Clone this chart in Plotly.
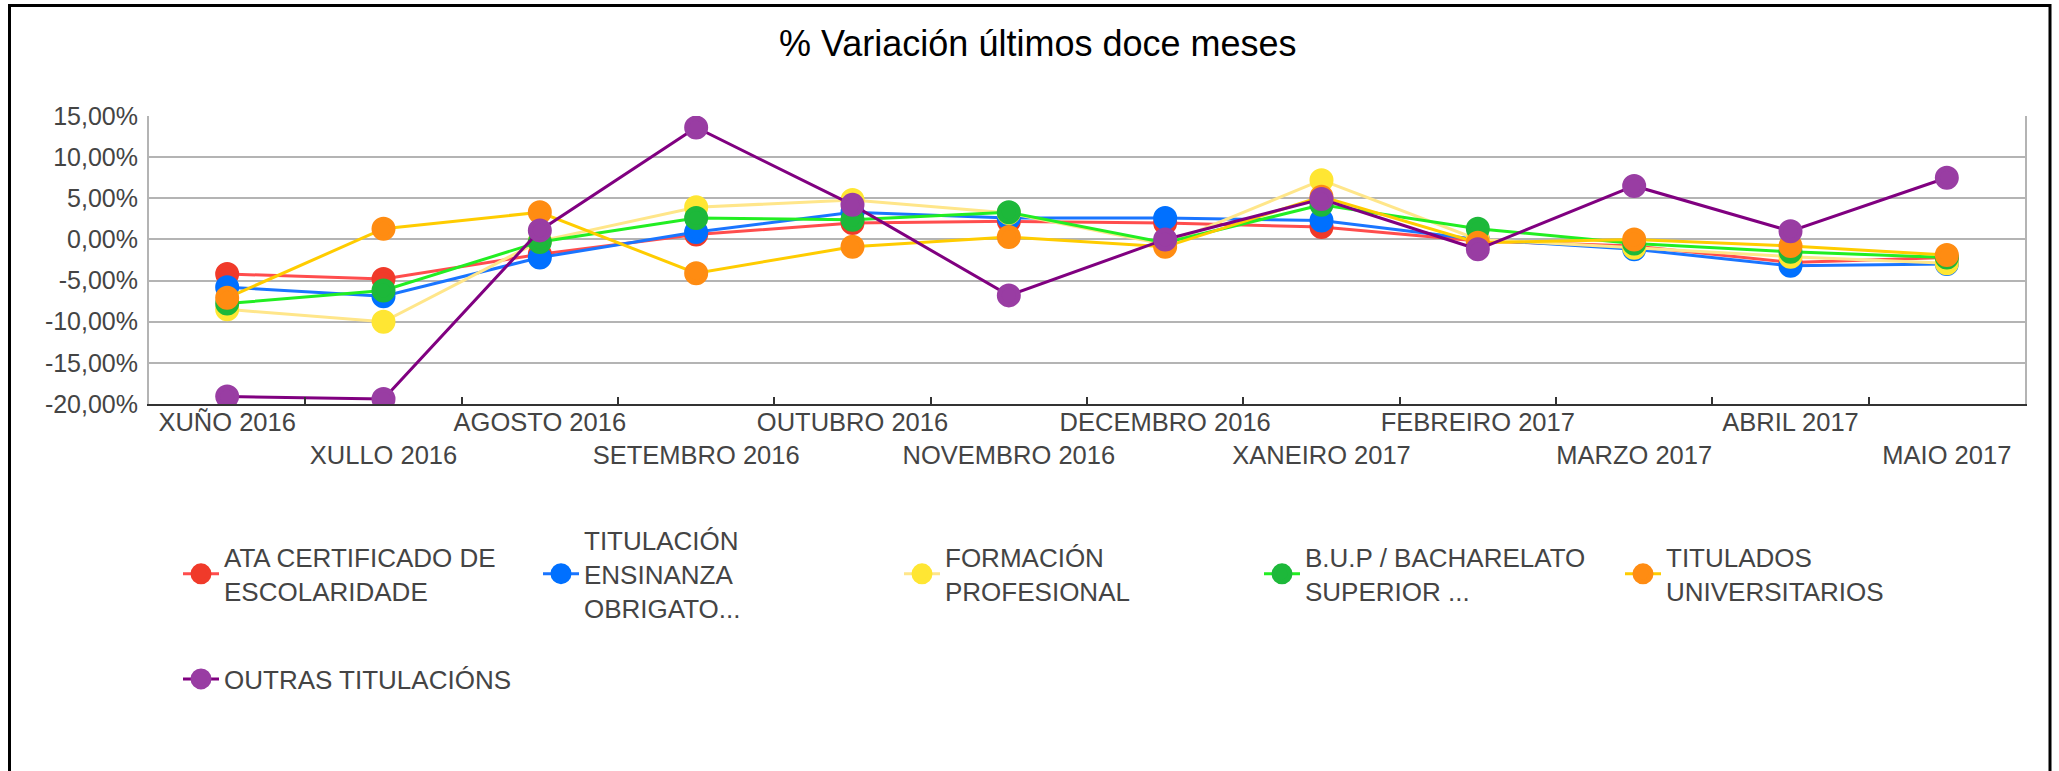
import plotly.graph_objects as go

categories = ["XUÑO 2016", "XULLO 2016", "AGOSTO 2016", "SETEMBRO 2016", "OUTUBRO 2016",
              "NOVEMBRO 2016", "DECEMBRO 2016", "XANEIRO 2017", "FEBREIRO 2017",
              "MARZO 2017", "ABRIL 2017", "MAIO 2017"]

ata_certificado = [-4.2, -4.8, -1.8, 0.6, 2.0, 2.2, 2.0, 1.5, -0.2, -0.8, -2.8, -2.2]
titulacion_ensinanza = [-5.8, -6.9, -2.2, 0.9, 3.3, 2.6, 2.6, 2.3, 0.0, -1.2, -3.2, -3.0]
formacion_profesional = [-8.5, -10.0, -0.2, 3.9, 4.8, 3.2, -0.6, 7.2, 0.0, -1.0, -2.1, -2.9]
bup_bacharelato = [-7.8, -6.2, -0.3, 2.6, 2.4, 3.3, -0.4, 4.2, 1.3, -0.5, -1.5, -2.2]
titulados_universitarios = [-7.1, 1.3, 3.3, -4.1, -0.9, 0.3, -0.9, 5.2, -0.4, 0.0, -0.8, -1.9]
outras_titulacions = [-19.1, -19.4, 1.1, 13.6, 4.2, -6.8, 0.0, 4.9, -1.2, 6.5, 1.0, 7.5]

series_names = ["ATA CERTIFICADO DE<br>ESCOLARIDADE",
                "TITULACIÓN<br>ENSINANZA<br>OBRIGATO...",
                "FORMACIÓN<br>PROFESIONAL",
                "B.U.P / BACHARELATO<br>SUPERIOR ...",
                "TITULADOS<br>UNIVERSITARIOS",
                "OUTRAS TITULACIÓNS"]
series_values = [ata_certificado, titulacion_ensinanza, formacion_profesional,
                 bup_bacharelato, titulados_universitarios, outras_titulacions]
marker_colors = ["#F03A2A", "#0070FF", "#FFE633", "#1DB83A", "#FF8C12", "#993DA3"]
line_colors = ["#FF4D4D", "#1A75FF", "#FFE68A", "#22EE22", "#FFCC00", "#800080"]

y_tick_values = [15, 10, 5, 0, -5, -10, -15, -20]
y_tick_labels = ["15,00%", "10,00%", "5,00%", "0,00%", "-5,00%", "-10,00%", "-15,00%", "-20,00%"]

W, H = 2059, 771
PL, PR, PT, PB = 149, 2025, 116, 404  # plot area in pixels


def px_x(p):
    return (p - PL) / (PR - PL)


def px_y(p):
    return (PB - p) / (PB - PT)


# legend symbol centres (pixels)
legend_pos = [(201, 574), (561, 574), (922, 574), (1282, 574), (1643, 574), (201, 679)]
ITEM_W = 36

fig = go.Figure()
legend_layouts = {}
for i, (name, vals) in enumerate(zip(series_names, series_values)):
    lname = "legend" if i == 0 else f"legend{i+1}"
    fig.add_trace(go.Scatter(
        x=categories, y=vals, name=name, mode="lines+markers",
        line=dict(color=line_colors[i], width=3),
        marker=dict(color=marker_colors[i], size=19,
                    line=dict(color=marker_colors[i], width=5)),
        legend=lname,
    ))
    cx, cy = legend_pos[i]
    legend_layouts[lname] = dict(
        x=px_x(cx - 5 - ITEM_W / 2), y=px_y(cy), xanchor="left", yanchor="middle",
        bgcolor="rgba(0,0,0,0)", borderwidth=0, itemwidth=ITEM_W,
        font=dict(family="Liberation Sans, Arial, sans-serif", size=26, color="#444444"),
        valign="middle",
    )

x_tick_text = [c if i % 2 == 0 else "<br>" + c for i, c in enumerate(categories)]

fig.update_layout(
    width=W, height=H,
    margin=dict(l=PL, r=W - PR, t=PT, b=H - PB, autoexpand=False),
    paper_bgcolor="white", plot_bgcolor="white",
    font=dict(family="Liberation Sans, Arial, sans-serif", color="#444444"),
    title=dict(text="% Variación últimos doce meses", xref="container", x=0.504,
               yref="container", y=1 - 43 / H, xanchor="center", yanchor="middle",
               font=dict(size=36, color="#000000", family="Liberation Sans, Arial, sans-serif")),
    showlegend=True,
    xaxis=dict(
        type="category", tickvals=categories, ticktext=x_tick_text,
        range=[-0.5, len(categories) - 0.5],
        ticks="inside", tickson="boundaries", ticklen=7, tickwidth=1.5, tickcolor="#333333",
        showline=True, linecolor="#333333", linewidth=2,
        showgrid=False, zeroline=False,
        tickfont=dict(size=25.5, color="#444444"),
        tickangle=0, ticklabelstandoff=-6,
    ),
    yaxis=dict(
        range=[-20, 15], tickvals=y_tick_values, ticktext=y_tick_labels,
        showgrid=True, gridcolor="#B4B4B4", gridwidth=2,
        zeroline=False, showline=True, mirror=True, linecolor="#B4B4B4", linewidth=2,
        ticks="", ticklabelstandoff=4,
        tickfont=dict(size=25, color="#444444"),
    ),
    shapes=[dict(type="rect", xref="paper", yref="paper",
                 x0=px_x(9.5), x1=px_x(2050), y0=px_y(5.5), y1=px_y(790),
                 line=dict(color="#000000", width=3), fillcolor="rgba(0,0,0,0)", layer="above")],
    **legend_layouts,
)

fig.write_html(
    "out.html",
    config={"displayModeBar": False},
    post_script="document.body.style.margin='0';document.body.style.padding='0';"
                "document.documentElement.style.overflow='hidden';document.body.style.overflow='hidden';",
)
